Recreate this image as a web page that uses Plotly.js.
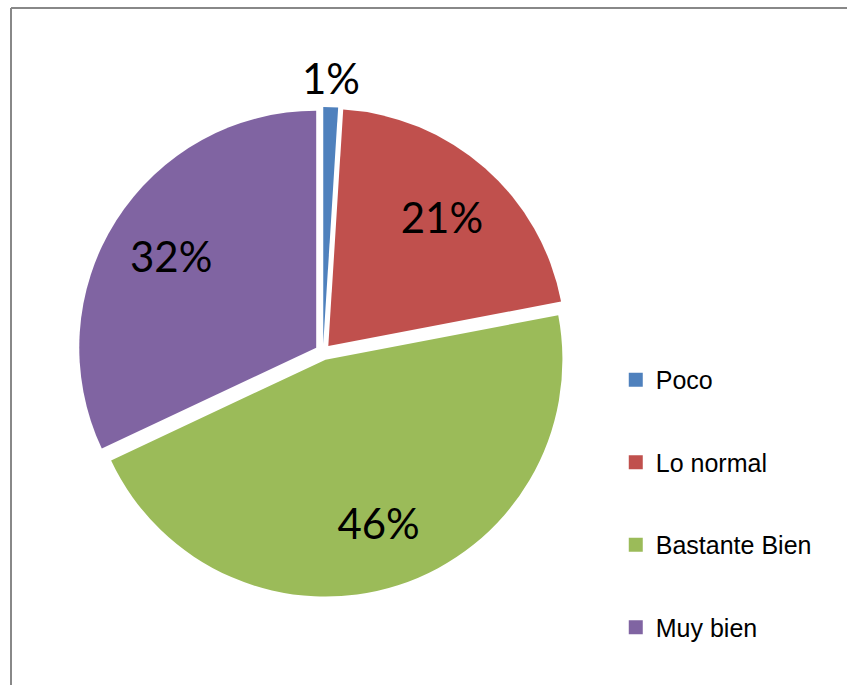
<!DOCTYPE html>
<html>
<head>
<meta charset="utf-8">
<script src="https://cdn.plot.ly/plotly-3.0.1.min.js"></script>
<style>
  html, body { margin: 0; padding: 0; background: #ffffff; }
  #chart { width: 847px; height: 685px; }
</style>
</head>
<body>
<div id="chart"></div>
<script>
// ---- data ----
const labels = ["Poco", "Lo normal", "Bastante Bien", "Muy bien"];
const values = [1, 21, 46, 32];
const colors = ["#4F81BD", "#C0504D", "#9BBB59", "#8064A2"];
// labels drawn inside the ring; the small first slice gets its label above it
const textPositions = ["none", "inside", "inside", "inside"];

const pull = 0.034;
const dom = { x: [0.0921, 0.6706], y: [0.1285, 0.8438] };
const labelFont = { family: "Lato, 'Open Sans', sans-serif", size: 42, color: "#000000" };

// main coloured pie
const pieMain = {
  type: "pie",
  labels: labels,
  values: values,
  sort: false,
  direction: "clockwise",
  rotation: 0,
  pull: pull,
  domain: dom,
  marker: { colors: colors, line: { width: 0 } },
  textinfo: "none",
  hoverinfo: "label+percent",
  showlegend: false
};

// transparent overlay used only to place the percentage labels in the ring
const pieText = {
  type: "pie",
  labels: labels,
  values: values,
  sort: false,
  direction: "clockwise",
  rotation: 0,
  pull: pull,
  hole: 0.45,
  domain: dom,
  marker: { colors: labels.map(() => "rgba(0,0,0,0)"), line: { width: 0 } },
  texttemplate: "%{percent:.0%}",
  textposition: textPositions,
  insidetextorientation: "horizontal",
  textfont: labelFont,
  hoverinfo: "skip",
  showlegend: false
};

// legend entries built from the same arrays
const legendTraces = labels.map((lab, i) => ({
  type: "scatter",
  mode: "markers",
  x: [null],
  y: [null],
  name: lab,
  legendgroup: "g" + i,
  marker: { symbol: "square", size: 14, color: colors[i] },
  showlegend: true,
  hoverinfo: "skip"
}));

const layout = {
  width: 847,
  height: 685,
  margin: { l: 0, r: 0, t: 0, b: 0 },
  paper_bgcolor: "#ffffff",
  plot_bgcolor: "rgba(0,0,0,0)",
  xaxis: { visible: false },
  yaxis: { visible: false },
  showlegend: true,
  legend: {
    x: 0.727,
    xanchor: "left",
    y: 0.479,
    yanchor: "top",
    tracegroupgap: 47,
    font: { family: "'Liberation Sans', Arial, sans-serif", size: 25, color: "#000000" },
    bgcolor: "rgba(0,0,0,0)"
  },
  shapes: [
    { type: "line", xref: "paper", yref: "paper", x0: 11/847, x1: 1, y0: 1 - 8/685, y1: 1 - 8/685,
      line: { color: "#888888", width: 2 } },
    { type: "line", xref: "paper", yref: "paper", x0: 11/847, x1: 11/847, y0: 0, y1: 1 - 8/685,
      line: { color: "#888888", width: 2 } }
  ]
};

const gd = document.getElementById("chart");
Plotly.newPlot(gd, [pieMain, pieText].concat(legendTraces), layout, { displayModeBar: false, staticPlot: true })
  .then(() => {
    // label for the first (small) slice, centred above it, using the pie geometry Plotly computed
    const cd = gd.calcdata[0];
    const cd0 = cd[0];
    const pt = cd[0];
    const sz = gd._fullLayout._size;
    const sliceCx = cd0.cx + pull * pt.pxmid[0];
    const sliceCy = cd0.cy + pull * pt.pxmid[1];
    const topX = sliceCx + pt.pxmid[0];
    const topY = sliceCy - cd0.r;
    const total = values.reduce((a, b) => a + b, 0);
    const txt = Math.round(values[0] / total * 100) + "%";
    return Plotly.relayout(gd, {
      annotations: [{
        xref: "paper", yref: "paper",
        x: (topX - sz.l) / sz.w,
        y: 1 - (topY - sz.t) / sz.h,
        xanchor: "center", yanchor: "bottom",
        yshift: 2,
        showarrow: false,
        text: txt,
        font: labelFont
      }]
    });
  });
</script>
</body>
</html>
